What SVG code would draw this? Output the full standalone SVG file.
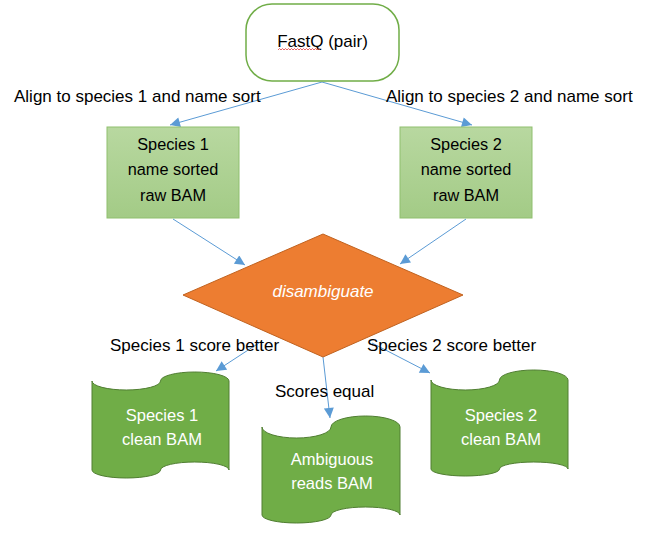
<svg xmlns="http://www.w3.org/2000/svg" width="653" height="540" viewBox="0 0 653 540">
<defs>
<linearGradient id="boxGrad" x1="0" y1="0" x2="0" y2="1">
<stop offset="0" stop-color="#B8D8A0"/>
<stop offset="1" stop-color="#A3CB86"/>
</linearGradient>
<marker id="arr" viewBox="0 0 10 10" refX="10" refY="5" markerWidth="11" markerHeight="10" markerUnits="userSpaceOnUse" orient="auto">
<path d="M0,0 L10,5 L0,10 Z" fill="#5B9BD5"/>
</marker>
</defs>
<style>
text{font-family:"Liberation Sans",Arial,sans-serif;fill:#000}
.lbl{font-size:17px}
.bt{font-size:16.3px;text-anchor:middle}
.wt{font-size:16.5px;text-anchor:middle;fill:#fff}
.conn{stroke:#5B9BD5;stroke-width:1;fill:none;marker-end:url(#arr)}
.sq{fill:url(#boxGrad);stroke:#8FBF6E;stroke-width:1}
.tape{fill:#70AD47;stroke:#507E32;stroke-width:1}
</style>
<rect width="653" height="540" fill="#fff"/>

<g id="connectors">
<path class="conn" d="M322,82 L170,125"/>
<path class="conn" d="M322,82 L472,125"/>
<path class="conn" d="M173,219 L245,265"/>
<path class="conn" d="M466,219 L400,264"/>
<path class="conn" d="M262,341 L216,371"/>
<path class="conn" d="M323,357 L330,418"/>
<path class="conn" d="M372,343 L430,373"/>
</g>

<g id="edge-labels">
<text class="lbl" x="14" y="102">Align to species 1 and name sort</text>
<text class="lbl" x="386" y="102">Align to species 2 and name sort</text>
<text class="lbl" x="110" y="351">Species 1 score better</text>
<text class="lbl" x="367" y="351">Species 2 score better</text>
<text class="lbl" x="275" y="397">Scores equal</text>
</g>

<g id="fastq">
<rect x="246" y="4" width="153" height="77" rx="26" ry="26" fill="#fff" stroke="#70AD47" stroke-width="1.5"/>
<text class="bt" x="322.5" y="47" style="font-size:17px">FastQ (pair)</text>
<path d="M278,50 l1.5,-1.5 l1.5,1.5 l1.5,-1.5 l1.5,1.5 l1.5,-1.5 l1.5,1.5 l1.5,-1.5 l1.5,1.5 l1.5,-1.5 l1.5,1.5 l1.5,-1.5 l1.5,1.5 l1.5,-1.5 l1.5,1.5 l1.5,-1.5 l1.5,1.5 l1.5,-1.5 l1.5,1.5 l1.5,-1.5 l1.5,1.5 l1.5,-1.5 l1.5,1.5 l1.5,-1.5 l1.5,1.5 l1.5,-1.5 l1.5,1.5 l1.5,-1.5 l1.5,1.5" fill="none" stroke="#E04040" stroke-width="0.8"/>
</g>

<g id="species1-raw">
<rect class="sq" x="107" y="127" width="132" height="91"/>
<text class="bt" x="173" y="150">Species 1</text>
<text class="bt" x="173" y="175">name sorted</text>
<text class="bt" x="173" y="201">raw BAM</text>
</g>

<g id="species2-raw">
<rect class="sq" x="400" y="127" width="132" height="91"/>
<text class="bt" x="466" y="150">Species 2</text>
<text class="bt" x="466" y="175">name sorted</text>
<text class="bt" x="466" y="201">raw BAM</text>
</g>

<g id="disambiguate">
<polygon points="323,234 463,295 323,357 183,295" fill="#ED7D31" stroke="#C0621F" stroke-width="1"/>
<text x="323" y="297" style="font-size:17px;font-style:italic;fill:#fff;text-anchor:middle">disambiguate</text>
</g>

<g id="species1-clean">
<path class="tape" d="M92,381 A34.25,9 0 0 0 160.5,381 A34.25,9 0 0 1 229,381 L229,470 A34.25,8 0 0 0 160.5,470 A34.25,8 0 0 1 92,470 Z"/>
<text class="wt" x="162" y="421">Species 1</text>
<text class="wt" x="162" y="445">clean BAM</text>
</g>

<g id="ambiguous">
<path class="tape" d="M262,427 A34.5,11 0 0 0 331,427 A34.5,11 0 0 1 400,427 L400,515 A34.5,8 0 0 0 331,515 A34.5,8 0 0 1 262,515 Z"/>
<text class="wt" x="332" y="465">Ambiguous</text>
<text class="wt" x="332" y="489">reads BAM</text>
</g>

<g id="species2-clean">
<path class="tape" d="M431,380 A34.25,10 0 0 0 499.5,380 A34.25,10 0 0 1 568,380 L568,469 A34.25,7 0 0 0 499.5,469 A34.25,7 0 0 1 431,469 Z"/>
<text class="wt" x="501" y="421">Species 2</text>
<text class="wt" x="501" y="445">clean BAM</text>
</g>
</svg>
